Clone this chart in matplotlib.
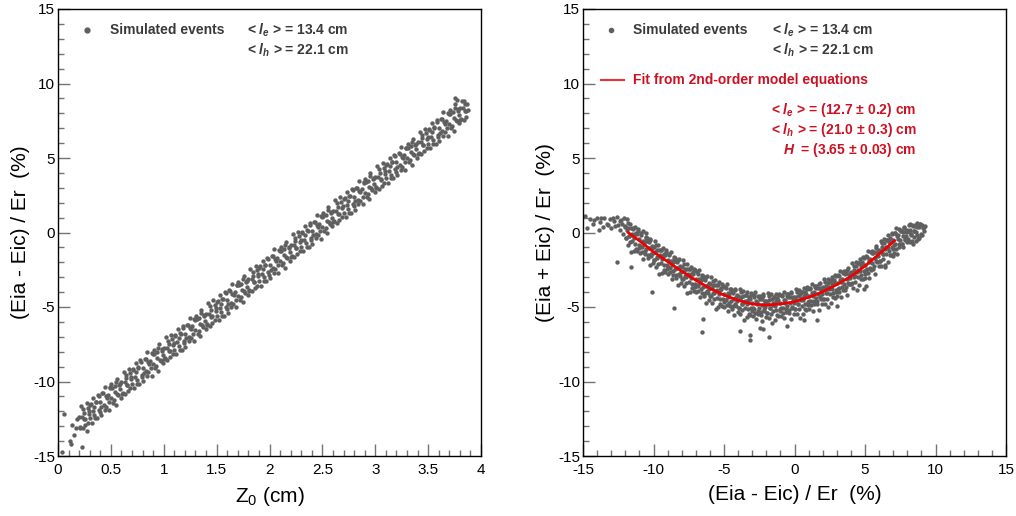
import matplotlib
matplotlib.use("Agg")
import matplotlib.pyplot as plt
from matplotlib.ticker import MultipleLocator, FormatStrFormatter

plt.rcParams['font.family'] = ['Liberation Sans', 'DejaVu Sans']
plt.rcParams['axes.unicode_minus'] = False
plt.rcParams['mathtext.fontset'] = 'custom'
plt.rcParams['mathtext.rm'] = 'Liberation Sans:bold'
plt.rcParams['mathtext.it'] = 'Liberation Sans:italic:bold'
plt.rcParams['mathtext.bf'] = 'Liberation Sans:bold'

# left panel: simulated events, Z0 (cm) vs (Eia - Eic)/Er (%)
z0 = [
    0.04, 0.06, 0.11, 0.12, 0.15, 0.17, 0.13, 0.23, 0.18, 0.27,
    0.20, 0.21, 0.23, 0.24, 0.25, 0.26, 0.28, 0.29,
    0.30, 0.31, 0.33, 0.34, 0.35, 0.36, 0.38, 0.39,
    0.40, 0.41, 0.43, 0.44, 0.45, 0.46, 0.48, 0.49,
    0.50, 0.51, 0.53, 0.54, 0.55, 0.56, 0.58, 0.59,
    0.60, 0.61, 0.63, 0.64, 0.65, 0.66, 0.68, 0.69,
    0.70, 0.71, 0.73, 0.74, 0.75, 0.76, 0.78, 0.79,
    0.80, 0.81, 0.83, 0.84, 0.85, 0.86, 0.88, 0.89,
    0.90, 0.91, 0.93, 0.94, 0.95, 0.96, 0.98, 0.99,
    1.00, 1.01, 1.03, 1.04, 1.05, 1.06, 1.08, 1.09,
    1.10, 1.11, 1.13, 1.14, 1.15, 1.16, 1.18, 1.19,
    1.20, 1.21, 1.23, 1.24, 1.25, 1.26, 1.28, 1.29,
    1.30, 1.31, 1.33, 1.34, 1.35, 1.36, 1.38, 1.39,
    1.40, 1.41, 1.43, 1.44, 1.45, 1.46, 1.48, 1.49,
    1.50, 1.51, 1.53, 1.54, 1.55, 1.56, 1.58, 1.59,
    1.60, 1.61, 1.63, 1.64, 1.65, 1.66, 1.68, 1.69,
    1.70, 1.71, 1.73, 1.74, 1.75, 1.76, 1.78, 1.79,
    1.80, 1.81, 1.83, 1.84, 1.85, 1.86, 1.88, 1.89,
    1.90, 1.91, 1.93, 1.94, 1.95, 1.96, 1.98, 1.99,
    2.00, 2.01, 2.03, 2.04, 2.05, 2.06, 2.08, 2.09,
    2.10, 2.11, 2.13, 2.14, 2.15, 2.16, 2.18, 2.19,
    2.20, 2.21, 2.23, 2.24, 2.25, 2.26, 2.28, 2.29,
    2.30, 2.31, 2.33, 2.34, 2.35, 2.36, 2.38, 2.39,
    2.40, 2.41, 2.43, 2.44, 2.45, 2.46, 2.48, 2.49,
    2.50, 2.51, 2.53, 2.54, 2.55, 2.56, 2.58, 2.59,
    2.60, 2.61, 2.63, 2.64, 2.65, 2.66, 2.68, 2.69,
    2.70, 2.71, 2.73, 2.74, 2.75, 2.76, 2.78, 2.79,
    2.80, 2.81, 2.83, 2.84, 2.85, 2.86, 2.88, 2.89,
    2.90, 2.91, 2.93, 2.94, 2.95, 2.96, 2.98, 2.99,
    3.00, 3.01, 3.03, 3.04, 3.05, 3.06, 3.08, 3.09,
    3.10, 3.11, 3.13, 3.14, 3.15, 3.16, 3.18, 3.19,
    3.20, 3.21, 3.23, 3.24, 3.25, 3.26, 3.28, 3.29,
    3.30, 3.31, 3.33, 3.34, 3.35, 3.36, 3.38, 3.39,
    3.40, 3.41, 3.43, 3.44, 3.45, 3.46, 3.48, 3.49,
    3.50, 3.51, 3.53, 3.54, 3.55, 3.56, 3.58, 3.59,
    3.60, 3.61, 3.63, 3.64, 3.65, 3.66, 3.68, 3.69,
    3.70, 3.71, 3.73, 3.74, 3.75, 3.76, 3.78, 3.79,
    3.80, 3.81, 3.83, 3.84, 3.85, 3.86,
]
asym = [
    -14.7, -12.2, -14.0, -14.2, -13.6, -13.1, -12.9, -14.4, -12.5, -13.3,
    -12.35, -13.05, -12.35, -11.85, -12.55, -12.95, -11.75, -12.15,
    -12.48, -11.48, -11.98, -11.68, -12.48, -11.38, -10.88, -11.88,
    -11.40, -11.70, -10.80, -11.90, -11.00, -11.10, -11.40, -10.40,
    -11.13, -10.43, -11.23, -10.73, -10.03, -10.83, -10.23, -10.53,
    -10.05, -10.75, -10.05, -9.55, -10.25, -10.65, -9.45, -9.85,
    -10.18, -9.18, -9.68, -9.38, -10.18, -9.08, -8.58, -9.58,
    -9.10, -9.40, -8.50, -9.60, -8.70, -8.80, -9.10, -8.10,
    -8.83, -8.13, -8.93, -8.43, -7.73, -8.53, -7.93, -8.23,
    -7.75, -8.45, -7.75, -7.25, -7.95, -8.35, -7.15, -7.55,
    -7.88, -6.88, -7.38, -7.08, -7.88, -6.78, -6.28, -7.28,
    -6.80, -7.10, -6.20, -7.30, -6.40, -6.50, -6.80, -5.80,
    -6.53, -5.83, -6.63, -6.13, -5.43, -6.23, -5.63, -5.93,
    -5.45, -6.15, -5.45, -4.95, -5.65, -6.05, -4.85, -5.25,
    -5.58, -4.58, -5.08, -4.78, -5.58, -4.48, -3.98, -4.98,
    -4.50, -4.80, -3.90, -5.00, -4.10, -4.20, -4.50, -3.50,
    -4.23, -3.53, -4.33, -3.83, -3.13, -3.93, -3.33, -3.63,
    -3.15, -3.85, -3.15, -2.65, -3.35, -3.75, -2.55, -2.95,
    -3.28, -2.28, -2.78, -2.48, -3.28, -2.18, -1.68, -2.68,
    -2.20, -2.50, -1.60, -2.70, -1.80, -1.90, -2.20, -1.20,
    -1.93, -1.23, -2.03, -1.53, -0.83, -1.63, -1.03, -1.33,
    -0.85, -1.55, -0.85, -0.35, -1.05, -1.45, -0.25, -0.65,
    -0.98, 0.02, -0.48, -0.18, -0.98, 0.12, 0.62, -0.38,
    0.10, -0.20, 0.70, -0.40, 0.50, 0.40, 0.10, 1.10,
    0.38, 1.08, 0.28, 0.78, 1.48, 0.68, 1.28, 0.98,
    1.45, 0.75, 1.45, 1.95, 1.25, 0.85, 2.05, 1.65,
    1.33, 2.33, 1.83, 2.13, 1.33, 2.43, 2.93, 1.93,
    2.40, 2.10, 3.00, 1.90, 2.80, 2.70, 2.40, 3.40,
    2.68, 3.38, 2.58, 3.08, 3.78, 2.98, 3.58, 3.28,
    3.75, 3.05, 3.75, 4.25, 3.55, 3.15, 4.35, 3.95,
    3.63, 4.63, 4.13, 4.43, 3.63, 4.73, 5.23, 4.23,
    4.70, 4.40, 5.30, 4.20, 5.10, 5.00, 4.70, 5.70,
    4.98, 5.68, 4.88, 5.38, 6.08, 5.28, 5.88, 5.58,
    6.05, 5.35, 6.05, 6.55, 5.85, 5.45, 6.65, 6.25,
    5.93, 6.93, 6.43, 6.73, 5.93, 7.03, 7.53, 6.53,
    7.00, 6.70, 7.60, 6.50, 7.40, 7.30, 7.00, 8.00,
    7.28, 7.98, 7.18, 7.68, 8.38, 7.58, 8.18, 7.88,
    8.35, 7.65, 8.35, 8.85, 8.15, 7.75,
]
z0_b = [
    3.88, 3.87, 3.75, 3.77,
    0.205, 0.22, 0.235, 0.245, 0.255, 0.27, 0.285, 0.295,
    0.305, 0.32, 0.335, 0.345, 0.355, 0.37, 0.385, 0.395,
    0.405, 0.42, 0.435, 0.445, 0.455, 0.47, 0.485, 0.495,
    0.505, 0.52, 0.535, 0.545, 0.555, 0.57, 0.585, 0.595,
    0.605, 0.62, 0.635, 0.645, 0.655, 0.67, 0.685, 0.695,
    0.705, 0.72, 0.735, 0.745, 0.755, 0.77, 0.785, 0.795,
    0.805, 0.82, 0.835, 0.845, 0.855, 0.87, 0.885, 0.895,
    0.905, 0.92, 0.935, 0.945, 0.955, 0.97, 0.985, 0.995,
    1.005, 1.02, 1.035, 1.045, 1.055, 1.07, 1.085, 1.095,
    1.105, 1.12, 1.135, 1.145, 1.155, 1.17, 1.185, 1.195,
    1.205, 1.22, 1.235, 1.245, 1.255, 1.27, 1.285, 1.295,
    1.305, 1.32, 1.335, 1.345, 1.355, 1.37, 1.385, 1.395,
    1.405, 1.42, 1.435, 1.445, 1.455, 1.47, 1.485, 1.495,
    1.505, 1.52, 1.535, 1.545, 1.555, 1.57, 1.585, 1.595,
    1.605, 1.62, 1.635, 1.645, 1.655, 1.67, 1.685, 1.695,
    1.705, 1.72, 1.735, 1.745, 1.755, 1.77, 1.785, 1.795,
    1.805, 1.82, 1.835, 1.845, 1.855, 1.87, 1.885, 1.895,
    1.905, 1.92, 1.935, 1.945, 1.955, 1.97, 1.985, 1.995,
    2.005, 2.02, 2.035, 2.045, 2.055, 2.07, 2.085, 2.095,
    2.105, 2.12, 2.135, 2.145, 2.155, 2.17, 2.185, 2.195,
    2.205, 2.22, 2.235, 2.245, 2.255, 2.27, 2.285, 2.295,
    2.305, 2.32, 2.335, 2.345, 2.355, 2.37, 2.385, 2.395,
    2.405, 2.42, 2.435, 2.445, 2.455, 2.47, 2.485, 2.495,
    2.505, 2.52, 2.535, 2.545, 2.555, 2.57, 2.585, 2.595,
    2.605, 2.62, 2.635, 2.645, 2.655, 2.67, 2.685, 2.695,
    2.705, 2.72, 2.735, 2.745, 2.755, 2.77, 2.785, 2.795,
    2.805, 2.82, 2.835, 2.845, 2.855, 2.87, 2.885, 2.895,
    2.905, 2.92, 2.935, 2.945, 2.955, 2.97, 2.985, 2.995,
    3.005, 3.02, 3.035, 3.045, 3.055, 3.07, 3.085, 3.095,
    3.105, 3.12, 3.135, 3.145, 3.155, 3.17, 3.185, 3.195,
    3.205, 3.22, 3.235, 3.245, 3.255, 3.27, 3.285, 3.295,
    3.305, 3.32, 3.335, 3.345, 3.355, 3.37, 3.385, 3.395,
    3.405, 3.42, 3.435, 3.445, 3.455, 3.47, 3.485, 3.495,
    3.505, 3.52, 3.535, 3.545, 3.555, 3.57, 3.585, 3.595,
    3.605, 3.62, 3.635, 3.645, 3.655, 3.67, 3.685, 3.695,
    3.705, 3.72, 3.735, 3.745, 3.755, 3.77, 3.785, 3.795,
    3.805, 3.82, 3.835, 3.845, 3.855,
]
asym_b = [
    8.2, 8.6, 9.0, 8.9,
    -13.12, -11.63, -13.15, -12.09, -12.53, -11.45, -12.76, -12.0,
    -11.55, -12.76, -11.08, -12.22, -11.36, -12.48, -10.99, -12.03,
    -12.27, -10.78, -11.6, -10.34, -11.68, -10.9, -11.91, -10.45,
    -10.2, -11.41, -10.33, -11.57, -9.81, -10.93, -10.14, -11.08,
    -10.82, -9.33, -10.85, -9.79, -10.23, -9.15, -10.46, -9.7,
    -9.25, -10.46, -8.78, -9.92, -9.06, -10.18, -8.69, -9.73,
    -9.97, -8.48, -9.3, -8.04, -9.38, -8.6, -9.61, -8.15,
    -7.9, -9.11, -8.03, -9.27, -7.51, -8.63, -7.84, -8.78,
    -8.52, -7.03, -8.55, -7.49, -7.93, -6.85, -8.16, -7.4,
    -6.95, -8.16, -6.48, -7.62, -6.76, -7.88, -6.39, -7.43,
    -7.67, -6.18, -7.0, -5.74, -7.08, -6.3, -7.31, -5.85,
    -5.6, -6.81, -5.73, -6.97, -5.21, -6.33, -5.54, -6.48,
    -6.22, -4.73, -6.25, -5.19, -5.63, -4.55, -5.86, -5.1,
    -4.65, -5.86, -4.18, -5.32, -4.46, -5.58, -4.09, -5.13,
    -5.37, -3.88, -4.7, -3.44, -4.78, -4.0, -5.01, -3.55,
    -3.3, -4.51, -3.43, -4.67, -2.91, -4.03, -3.24, -4.18,
    -3.92, -2.43, -3.95, -2.89, -3.33, -2.25, -3.56, -2.8,
    -2.35, -3.56, -1.88, -3.02, -2.16, -3.28, -1.79, -2.83,
    -3.07, -1.58, -2.4, -1.14, -2.48, -1.7, -2.71, -1.25,
    -1.0, -2.21, -1.13, -2.37, -0.61, -1.73, -0.94, -1.88,
    -1.62, -0.13, -1.65, -0.59, -1.03, 0.05, -1.26, -0.5,
    -0.05, -1.26, 0.42, -0.72, 0.14, -0.98, 0.51, -0.53,
    -0.77, 0.72, -0.1, 1.16, -0.18, 0.6, -0.41, 1.05,
    1.31, 0.1, 1.18, -0.06, 1.7, 0.58, 1.37, 0.43,
    0.68, 2.17, 0.65, 1.71, 1.27, 2.35, 1.04, 1.8,
    2.26, 1.05, 2.73, 1.59, 2.45, 1.33, 2.82, 1.78,
    1.53, 3.02, 2.2, 3.46, 2.12, 2.9, 1.89, 3.35,
    3.61, 2.4, 3.48, 2.24, 4.0, 2.88, 3.67, 2.73,
    2.98, 4.47, 2.95, 4.01, 3.57, 4.65, 3.34, 4.1,
    4.56, 3.35, 5.03, 3.89, 4.75, 3.63, 5.12, 4.08,
    3.83, 5.32, 4.5, 5.76, 4.42, 5.2, 4.19, 5.65,
    5.91, 4.7, 5.78, 4.54, 6.3, 5.18, 5.97, 5.03,
    5.28, 6.77, 5.25, 6.31, 5.87, 6.95, 5.64, 6.4,
    6.86, 5.65, 7.33, 6.19, 7.05, 5.93, 7.42, 6.38,
    6.13, 7.62, 6.8, 8.06, 6.72, 7.5, 6.49, 7.95,
    8.21, 7.0, 8.08, 6.84, 8.6, 7.48, 8.27, 7.33,
    7.58, 8.8, 7.55, 8.61, 8.17,
]

# right panel: (Eia - Eic)/Er vs (Eia + Eic)/Er, both in %
diff = [
    -14.86, -14.7, -14.5, -14.27, -14.0, -13.9, -13.8, -13.6, -13.5, -13.3,
    -13.1, -13.0, -12.8, -12.6, -12.6, -12.5, -12.4, -12.3, -12.2, -12.15,
    -12.1, -12.05, -11.6, -10.5, -10.1, -8.56, -6.58, -6.46, -3.87, -3.16,
    -3.16, -2.45, -2.2, -1.84, -0.54, 0.64, 1.59, 3.0, 4.9, 5.1,
    6.4, 7.0, 9.02, 9.05, 9.1, 9.15, 9.2, 9.25,
    -14.2, -13.7, -13.2, -12.9, -12.7, -12.35,
    -12.0, -11.94, -11.87, -11.81, -11.75, -11.69, -11.62, -11.56,
    -11.5, -11.44, -11.37, -11.31, -11.25, -11.19, -11.12, -11.06,
    -11.0, -10.94, -10.87, -10.81, -10.75, -10.69, -10.62, -10.56,
    -10.5, -10.44, -10.37, -10.31, -10.25, -10.19, -10.12, -10.06,
    -10.0, -9.94, -9.87, -9.81, -9.75, -9.69, -9.62, -9.56,
    -9.5, -9.44, -9.37, -9.31, -9.25, -9.19, -9.12, -9.06,
    -9.0, -8.94, -8.87, -8.81, -8.75, -8.69, -8.62, -8.56,
    -8.5, -8.44, -8.37, -8.31, -8.25, -8.19, -8.12, -8.06,
    -8.0, -7.94, -7.87, -7.81, -7.75, -7.69, -7.62, -7.56,
    -7.5, -7.44, -7.37, -7.31, -7.25, -7.19, -7.12, -7.06,
    -7.0, -6.94, -6.87, -6.81, -6.75, -6.69, -6.62, -6.56,
    -6.5, -6.44, -6.37, -6.31, -6.25, -6.19, -6.12, -6.06,
    -6.0, -5.94, -5.87, -5.81, -5.75, -5.69, -5.62, -5.56,
    -5.5, -5.44, -5.37, -5.31, -5.25, -5.19, -5.12, -5.06,
    -5.0, -4.94, -4.87, -4.81, -4.75, -4.69, -4.62, -4.56,
    -4.5, -4.44, -4.37, -4.31, -4.25, -4.19, -4.12, -4.06,
    -4.0, -3.94, -3.87, -3.81, -3.75, -3.69, -3.62, -3.56,
    -3.5, -3.44, -3.37, -3.31, -3.25, -3.19, -3.12, -3.06,
    -3.0, -2.94, -2.87, -2.81, -2.75, -2.69, -2.62, -2.56,
    -2.5, -2.44, -2.37, -2.31, -2.25, -2.19, -2.12, -2.06,
    -2.0, -1.94, -1.87, -1.81, -1.75, -1.69, -1.62, -1.56,
    -1.5, -1.44, -1.37, -1.31, -1.25, -1.19, -1.12, -1.06,
    -1.0, -0.94, -0.87, -0.81, -0.75, -0.69, -0.62, -0.56,
    -0.5, -0.44, -0.37, -0.31, -0.25, -0.19, -0.12, -0.06,
    0.0, 0.06, 0.13, 0.19, 0.25, 0.31, 0.38, 0.44,
    0.5, 0.56, 0.63, 0.69, 0.75, 0.81, 0.88, 0.94,
    1.0, 1.06, 1.13, 1.19, 1.25, 1.31, 1.38, 1.44,
    1.5, 1.56, 1.63, 1.69, 1.75, 1.81, 1.88, 1.94,
    2.0, 2.06, 2.13, 2.19, 2.25, 2.31, 2.38, 2.44,
    2.5, 2.56, 2.63, 2.69, 2.75, 2.81, 2.88, 2.94,
    3.0, 3.06, 3.13, 3.19, 3.25, 3.31, 3.38, 3.44,
    3.5, 3.56, 3.63, 3.69, 3.75, 3.81, 3.88, 3.94,
    4.0, 4.06, 4.13, 4.19, 4.25, 4.31, 4.38, 4.44,
    4.5, 4.56, 4.63, 4.69, 4.75, 4.81, 4.88, 4.94,
    5.0, 5.06, 5.13, 5.19, 5.25, 5.31, 5.38, 5.44,
    5.5, 5.56, 5.63, 5.69, 5.75, 5.81, 5.88, 5.94,
    6.0, 6.06, 6.13, 6.19, 6.25, 6.31, 6.38, 6.44,
    6.5, 6.56, 6.63, 6.69, 6.75, 6.81, 6.88, 6.94,
    7.0, 7.06, 7.13, 7.19, 7.25, 7.31, 7.38, 7.44,
    7.5, 7.56, 7.63, 7.69, 7.75, 7.81, 7.88, 7.94,
    8.0, 8.06, 8.13, 8.19, 8.25, 8.31, 8.38, 8.44,
    8.5, 8.56, 8.63, 8.69, 8.75, 8.81, 8.88, 8.94,
]
summ = [
    1.1, 0.3, 0.9, 0.6, 0.95, 0.2, 0.7, 0.4, 1.0, 0.6,
    0.9, 0.3, 0.75, 1.05, -1.96, 0.5, 0.2, 0.85, 0.6, -0.1,
    0.95, 0.35, -2.3, -0.05, -4.0, -5.1, -6.7, -5.8, -6.6, -6.9,
    -7.2, -6.4, -6.5, -7.0, -6.3, -5.9, -5.9, -4.9, -3.8, -3.6,
    -2.2, -1.6, 0.5, -0.2, 0.3, 0.1, 0.4, 0.45,
    0.85, 1.0, 0.5, 0.95, 0.45, 0.8,
    0.45, -0.39, 0.16, 0.62, -0.23, -0.67, 0.28, -0.16,
    -0.6, 0.26, -0.39, -0.13, -1.08, -0.12, 0.23, -0.81,
    -0.45, -0.89, -0.15, -1.29, -0.54, -0.78, -1.23, -0.28,
    -1.12, -0.57, -1.52, -1.06, -0.51, -1.46, -1.01, -1.35,
    -1.0, -1.84, -1.29, -0.83, -1.67, -2.1, -1.15, -1.59,
    -2.03, -1.17, -1.81, -1.55, -2.49, -1.53, -1.17, -2.21,
    -1.85, -2.29, -1.54, -2.68, -1.92, -2.15, -2.6, -1.64,
    -2.48, -1.92, -2.86, -2.4, -1.84, -2.78, -2.32, -2.66,
    -2.3, -3.14, -2.58, -2.11, -2.95, -3.39, -2.43, -2.86,
    -3.3, -2.44, -3.08, -2.81, -3.75, -2.79, -2.43, -3.46,
    -3.1, -3.53, -2.77, -3.91, -3.14, -3.37, -3.81, -2.85,
    -3.68, -3.11, -4.05, -3.59, -3.02, -3.95, -3.49, -3.82,
    -3.45, -4.28, -3.71, -3.24, -4.07, -4.49, -3.52, -3.95,
    -4.38, -3.51, -4.14, -3.86, -4.79, -3.82, -3.45, -4.47,
    -4.1, -4.52, -3.75, -4.87, -4.09, -4.31, -4.74, -3.76,
    -4.58, -4.0, -4.92, -4.44, -3.87, -4.79, -4.31, -4.63,
    -4.25, -5.07, -4.48, -4.0, -4.82, -5.23, -4.25, -4.66,
    -5.08, -4.19, -4.81, -4.53, -5.44, -4.45, -4.07, -5.09,
    -4.7, -5.1, -4.31, -5.42, -4.63, -4.83, -5.24, -4.24,
    -5.05, -4.45, -5.36, -4.86, -4.26, -5.16, -4.67, -4.97,
    -4.57, -5.37, -4.77, -4.26, -5.06, -5.46, -4.45, -4.85,
    -5.25, -4.34, -4.94, -4.63, -5.52, -4.52, -4.11, -5.11,
    -4.7, -5.09, -4.28, -5.37, -4.56, -4.76, -5.15, -4.14,
    -4.93, -4.32, -5.21, -4.7, -4.09, -4.98, -4.47, -4.76,
    -4.35, -5.13, -4.51, -3.99, -4.77, -5.16, -4.14, -4.52,
    -4.9, -3.98, -4.56, -4.24, -5.12, -4.11, -3.69, -4.67,
    -4.25, -4.63, -3.8, -4.88, -4.06, -4.24, -4.61, -3.59,
    -4.37, -3.75, -4.62, -4.1, -3.48, -4.36, -3.83, -4.1,
    -3.68, -4.45, -3.82, -3.29, -4.06, -4.44, -3.41, -3.78,
    -4.15, -3.22, -3.78, -3.45, -4.32, -3.29, -2.86, -3.83,
    -3.4, -3.77, -2.93, -4.0, -3.16, -3.33, -3.69, -2.66,
    -3.43, -2.8, -3.66, -3.12, -2.49, -3.36, -2.82, -3.08,
    -2.65, -3.41, -2.76, -2.22, -2.97, -3.33, -2.28, -2.64,
    -3.0, -2.06, -2.61, -2.27, -3.12, -2.08, -1.63, -2.59,
    -2.15, -2.5, -1.65, -2.7, -1.85, -2.0, -2.35, -1.3,
    -2.05, -1.4, -2.25, -1.7, -1.05, -1.9, -1.35, -1.6,
    -1.15, -1.9, -1.24, -0.69, -1.44, -1.79, -0.73, -1.08,
    -1.43, -0.48, -1.02, -0.67, -1.52, -0.47, -0.01, -0.96,
    -0.5, -0.86, -0.02, -1.09, -0.25, -0.41, -0.77, 0.26,
    -0.5, 0.12, -0.75, -0.22, 0.4, -0.48, 0.05, -0.22,
    0.2, -0.58, 0.05, 0.58, -0.2, -0.58, 0.45, 0.08,
    -0.3, 0.51, 0.03, 0.34, -0.45, 0.36, 0.58, -0.11,
]
diff_b = [
    -11.97, -11.90, -11.84, -11.78, -11.72, -11.65, -11.59, -11.53,
    -11.47, -11.40, -11.34, -11.28, -11.22, -11.15, -11.09, -11.03,
    -10.97, -10.90, -10.84, -10.78, -10.72, -10.65, -10.59, -10.53,
    -10.47, -10.40, -10.34, -10.28, -10.22, -10.15, -10.09, -10.03,
    -9.97, -9.90, -9.84, -9.78, -9.72, -9.65, -9.59, -9.53,
    -9.47, -9.40, -9.34, -9.28, -9.22, -9.15, -9.09, -9.03,
    -8.97, -8.90, -8.84, -8.78, -8.72, -8.65, -8.59, -8.53,
    -8.47, -8.40, -8.34, -8.28, -8.22, -8.15, -8.09, -8.03,
    -7.97, -7.90, -7.84, -7.78, -7.72, -7.65, -7.59, -7.53,
    -7.47, -7.40, -7.34, -7.28, -7.22, -7.15, -7.09, -7.03,
    -6.97, -6.90, -6.84, -6.78, -6.72, -6.65, -6.59, -6.53,
    -6.47, -6.40, -6.34, -6.28, -6.22, -6.15, -6.09, -6.03,
    -5.97, -5.90, -5.84, -5.78, -5.72, -5.65, -5.59, -5.53,
    -5.47, -5.40, -5.34, -5.28, -5.22, -5.15, -5.09, -5.03,
    -4.97, -4.90, -4.84, -4.78, -4.72, -4.65, -4.59, -4.53,
    -4.47, -4.40, -4.34, -4.28, -4.22, -4.15, -4.09, -4.03,
    -3.97, -3.90, -3.84, -3.78, -3.72, -3.65, -3.59, -3.53,
    -3.47, -3.40, -3.34, -3.28, -3.22, -3.15, -3.09, -3.03,
    -2.97, -2.90, -2.84, -2.78, -2.72, -2.65, -2.59, -2.53,
    -2.47, -2.40, -2.34, -2.28, -2.22, -2.15, -2.09, -2.03,
    -1.97, -1.90, -1.84, -1.78, -1.72, -1.65, -1.59, -1.53,
    -1.47, -1.40, -1.34, -1.28, -1.22, -1.15, -1.09, -1.03,
    -0.97, -0.90, -0.84, -0.78, -0.72, -0.65, -0.59, -0.53,
    -0.47, -0.40, -0.34, -0.28, -0.22, -0.15, -0.09, -0.03,
    0.03, 0.10, 0.16, 0.22, 0.28, 0.35, 0.41, 0.47,
    0.53, 0.60, 0.66, 0.72, 0.78, 0.85, 0.91, 0.97,
    1.03, 1.10, 1.16, 1.22, 1.28, 1.35, 1.41, 1.47,
    1.53, 1.60, 1.66, 1.72, 1.78, 1.85, 1.91, 1.97,
    2.03, 2.10, 2.16, 2.22, 2.28, 2.35, 2.41, 2.47,
    2.53, 2.60, 2.66, 2.72, 2.78, 2.85, 2.91, 2.97,
    3.03, 3.10, 3.16, 3.22, 3.28, 3.35, 3.41, 3.47,
    3.53, 3.60, 3.66, 3.72, 3.78, 3.85, 3.91, 3.97,
    4.03, 4.10, 4.16, 4.22, 4.28, 4.35, 4.41, 4.47,
    4.53, 4.60, 4.66, 4.72, 4.78, 4.85, 4.91, 4.97,
    5.03, 5.10, 5.16, 5.22, 5.28, 5.35, 5.41, 5.47,
    5.53, 5.60, 5.66, 5.72, 5.78, 5.85, 5.91, 5.97,
    6.03, 6.10, 6.16, 6.22, 6.28, 6.35, 6.41, 6.47,
    6.53, 6.60, 6.66, 6.72, 6.78, 6.85, 6.91, 6.97,
    7.03, 7.10, 7.16, 7.22, 7.28, 7.35, 7.41, 7.47,
    7.53, 7.60, 7.66, 7.72, 7.78, 7.85, 7.91, 7.97,
    8.03, 8.10, 8.16, 8.22, 8.28, 8.35, 8.41, 8.47,
    8.53, 8.60, 8.66, 8.72, 8.78, 8.85, 8.91, 8.97,
]
summ_b = [
    -0.37, 0.88, -0.86, 0.3, -0.25, 0.6, -1.34, -0.08,
    0.28, -1.27, 0.39, -0.75, 0.0, -1.25, 0.11, -1.03,
    -1.37, -0.02, -0.97, 0.09, -1.76, -0.61, -1.45, -0.4,
    -0.34, -1.7, -0.64, -2.19, -0.43, -1.59, -0.93, -2.08,
    -1.82, -0.57, -2.31, -1.15, -1.68, -0.83, -2.77, -1.51,
    -1.15, -2.69, -1.03, -2.17, -1.41, -2.65, -1.29, -2.43,
    -2.77, -1.42, -2.36, -1.3, -3.13, -1.98, -2.82, -1.76,
    -1.7, -3.04, -1.98, -3.52, -1.76, -2.9, -2.24, -3.38,
    -3.12, -1.86, -3.6, -2.43, -2.97, -2.11, -4.05, -2.78,
    -2.42, -3.96, -2.3, -3.43, -2.67, -3.91, -2.55, -3.68,
    -4.02, -2.66, -3.59, -2.52, -4.36, -3.2, -4.03, -2.96,
    -2.9, -4.23, -3.17, -4.7, -2.93, -4.07, -3.4, -4.53,
    -4.26, -3.0, -4.72, -3.55, -4.08, -3.21, -5.14, -3.87,
    -3.49, -5.02, -3.35, -4.48, -3.7, -4.93, -3.56, -4.69,
    -5.01, -3.64, -4.56, -3.48, -5.3, -4.13, -4.95, -3.87,
    -3.79, -5.11, -4.03, -5.55, -3.78, -4.9, -4.22, -5.34,
    -5.06, -3.78, -5.49, -4.31, -4.82, -3.94, -5.86, -4.57,
    -4.19, -5.7, -4.02, -5.13, -4.35, -5.56, -4.18, -5.29,
    -5.6, -4.21, -5.12, -4.02, -5.83, -4.64, -5.44, -4.35,
    -4.25, -5.55, -4.46, -5.96, -4.16, -5.26, -4.57, -5.67,
    -5.37, -4.07, -5.76, -4.56, -5.06, -4.16, -6.05, -4.75,
    -4.35, -5.84, -4.13, -5.23, -4.42, -5.61, -4.21, -5.3,
    -5.6, -4.19, -5.08, -3.97, -5.76, -4.55, -5.34, -4.23,
    -4.13, -5.41, -4.3, -5.8, -3.99, -5.07, -4.36, -5.46,
    -5.14, -3.82, -5.5, -4.28, -4.77, -3.84, -5.73, -4.41,
    -3.99, -5.47, -3.75, -4.83, -4.02, -5.19, -3.78, -4.86,
    -5.14, -3.71, -4.59, -3.47, -5.25, -4.02, -4.8, -3.68,
    -3.56, -4.83, -3.71, -5.19, -3.36, -4.44, -3.72, -4.79,
    -4.47, -3.13, -4.81, -3.58, -4.05, -3.12, -4.99, -3.66,
    -3.23, -4.7, -2.97, -4.04, -3.21, -4.37, -2.94, -4.01,
    -4.28, -2.85, -3.71, -2.58, -4.35, -3.11, -3.88, -2.75,
    -2.61, -3.88, -2.74, -4.21, -2.38, -3.44, -2.71, -3.48,
    -3.43, -2.08, -3.74, -2.5, -2.95, -2.0, -3.86, -2.52,
    -2.08, -3.53, -1.79, -2.85, -2.0, -3.15, -1.71, -2.77,
    -3.03, -1.57, -2.42, -1.27, -3.03, -1.77, -2.52, -1.37,
    -1.23, -2.47, -1.32, -2.77, -0.93, -1.97, -1.22, -2.27,
    -1.92, -0.57, -2.22, -0.97, -1.41, -0.46, -2.31, -0.96,
    -0.5, -1.95, -0.2, -1.25, -0.39, -1.53, -0.09, -1.12,
    -1.38, -0.04, -0.8, 0.33, -1.43, -0.19, -0.95, 0.18,
    0.13, -0.75, 0.04, -0.98, 0.3, -0.44, 0.07, -0.67,
    -0.44, 0.5, -0.67, 0.2, -0.13, 0.53, -0.78, 0.09,
    0.46, -0.58, 0.62, -0.14, 0.44, -0.39, 0.6, -0.16,
]

# fitted curve (2nd-order model)
fit_x = [-11.8, -11, -10, -9, -8, -7, -6, -5, -4, -3, -2, -1, 0, 1, 2, 3, 4, 5, 6, 7.1]
fit_y = [0.0, -0.55, -1.3, -1.95, -2.6, -3.2, -3.75, -4.2, -4.55, -4.8, -4.87,
         -4.8, -4.65, -4.35, -3.98, -3.5, -2.95, -2.25, -1.45, -0.55]

pt_color = '#5f5f5f'
txt_gray = '#3a3a3a'
txt_red = '#cc1122'

fig = plt.figure(figsize=(10.16, 5.16), dpi=100)
ax1 = fig.add_axes([58 / 1016, 60 / 516, 423 / 1016, 447 / 516])
ax2 = fig.add_axes([583 / 1016, 60 / 516, 423 / 1016, 447 / 516])


def style_axis(ax, xmaj, xmin):
    ax.xaxis.set_major_locator(MultipleLocator(xmaj))
    ax.xaxis.set_minor_locator(MultipleLocator(xmin))
    ax.xaxis.set_major_formatter(FormatStrFormatter('%g'))
    ax.yaxis.set_major_locator(MultipleLocator(5))
    ax.yaxis.set_minor_locator(MultipleLocator(1))
    ax.tick_params(which='both', direction='in', top=False, right=False,
                   color='0.45', width=1, labelsize=11)
    ax.tick_params(which='major', length=8.6)
    ax.tick_params(which='minor', length=4.3)
    ax.tick_params(axis='y', pad=2)
    ax.tick_params(axis='x', pad=5)
    for s in ax.spines.values():
        s.set_linewidth(1)
        s.set_color('black')
    ax.set_ylim(-15, 15)


def legend_text(ax, x, y, s, color):
    ax.text(x, y, s, transform=ax.transAxes, fontsize=10, fontweight='bold',
            color=color, va='center')


# left panel
ax1.scatter(z0, asym, s=10, color=pt_color, linewidths=0)
ax1.scatter(z0_b, asym_b, s=10, color=pt_color, linewidths=0)
ax1.set_xlim(0, 4)
style_axis(ax1, 0.5, 0.1)
ax1.set_xlabel(r'Z$_{\mathregular{0}}$ (cm)', fontsize=15)
ax1.set_ylabel('(Eia - Eic) / Er  (%)', fontsize=15)
ax1.xaxis.set_label_coords(0.5, -0.065)
ax1.yaxis.set_label_coords(-0.066, 0.5)

ax1.plot([0.0686], [0.953], 'o', ms=3.5, color=pt_color, transform=ax1.transAxes)
legend_text(ax1, 0.123, 0.953, 'Simulated events', txt_gray)
legend_text(ax1, 0.447, 0.953, r'< $l_{e}$ > = 13.4 cm', txt_gray)
legend_text(ax1, 0.447, 0.908, r'< $l_{h}$ > = 22.1 cm', txt_gray)

# right panel
ax2.scatter(diff, summ, s=10, color=pt_color, linewidths=0)
ax2.scatter(diff_b, summ_b, s=10, color=pt_color, linewidths=0)
ax2.plot(fit_x, fit_y, color='#ee0000', lw=2)
ax2.set_xlim(-15, 15)
style_axis(ax2, 5, 1)
ax2.set_xlabel('(Eia - Eic) / Er  (%)', fontsize=15)
ax2.set_ylabel('(Eia + Eic) / Er  (%)', fontsize=15)
ax2.xaxis.set_label_coords(0.5, -0.065)
ax2.yaxis.set_label_coords(-0.066, 0.5)

ax2.plot([0.066], [0.953], 'o', ms=3, color=pt_color, transform=ax2.transAxes)
legend_text(ax2, 0.118, 0.953, 'Simulated events', txt_gray)
legend_text(ax2, 0.447, 0.953, r'< $l_{e}$ > = 13.4 cm', txt_gray)
legend_text(ax2, 0.447, 0.908, r'< $l_{h}$ > = 22.1 cm', txt_gray)
ax2.plot([0.043, 0.097], [0.841, 0.841], color='#f03030', lw=1.5, transform=ax2.transAxes)
legend_text(ax2, 0.118, 0.841, 'Fit from 2nd-order model equations', txt_red)
legend_text(ax2, 0.444, 0.774, r'< $l_{e}$ > = (12.7 ± 0.2) cm', txt_red)
legend_text(ax2, 0.444, 0.729, r'< $l_{h}$ > = (21.0 ± 0.3) cm', txt_red)
legend_text(ax2, 0.473, 0.685, r'$H$  = (3.65 ± 0.03) cm', txt_red)

fig.savefig('out.png', dpi=100)
